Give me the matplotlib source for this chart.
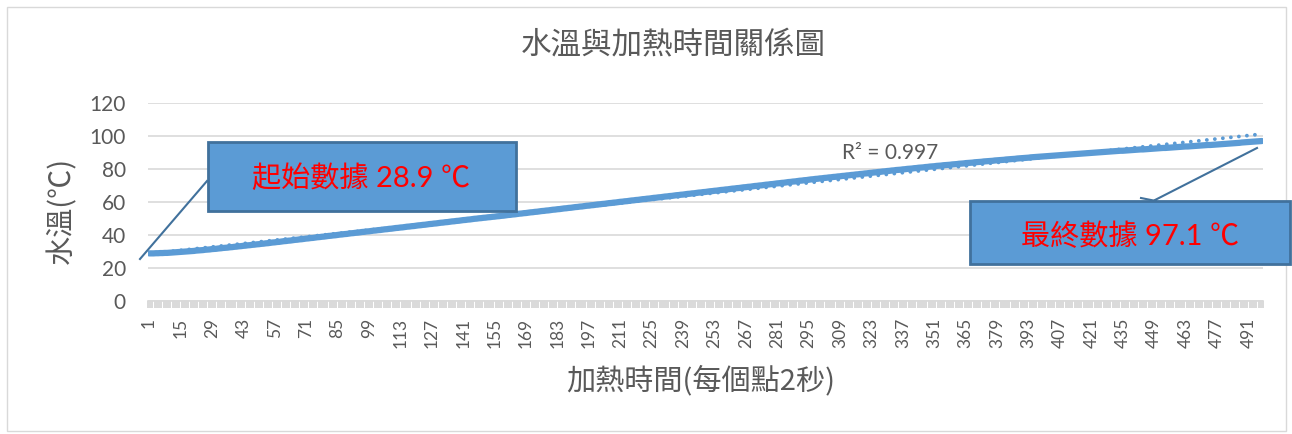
import numpy as np
import matplotlib.pyplot as plt
from matplotlib.patches import Rectangle
from matplotlib.lines import Line2D

plt.rcParams['font.family'] = ['Lato', 'Noto Sans CJK TC', 'DejaVu Sans']

# water temperature, one reading every 2 s
temps = [
    28.9, 28.9, 28.9, 29.0, 29.0, 29.1, 29.1, 29.2, 29.2, 29.3,
    29.4, 29.5, 29.6, 29.7, 29.8, 29.9, 30.0, 30.1, 30.2, 30.3,
    30.4, 30.6, 30.7, 30.8, 30.9, 31.1, 31.2, 31.3, 31.5, 31.6,
    31.7, 31.9, 32.0, 32.2, 32.3, 32.4, 32.6, 32.7, 32.9, 33.0,
    33.2, 33.3, 33.5, 33.6, 33.8, 33.9, 34.1, 34.2, 34.4, 34.5,
    34.7, 34.8, 35.0, 35.1, 35.3, 35.5, 35.6, 35.8, 35.9, 36.1,
    36.3, 36.4, 36.6, 36.7, 36.9, 37.1, 37.2, 37.4, 37.5, 37.7,
    37.9, 38.0, 38.2, 38.3, 38.5, 38.7, 38.8, 39.0, 39.1, 39.3,
    39.5, 39.6, 39.8, 39.9, 40.1, 40.3, 40.4, 40.6, 40.7, 40.9,
    41.1, 41.2, 41.4, 41.5, 41.7, 41.9, 42.0, 42.2, 42.3, 42.5,
    42.7, 42.8, 43.0, 43.1, 43.3, 43.5, 43.6, 43.8, 43.9, 44.1,
    44.3, 44.4, 44.6, 44.7, 44.9, 45.1, 45.2, 45.4, 45.5, 45.7,
    45.9, 46.0, 46.2, 46.3, 46.5, 46.7, 46.8, 47.0, 47.1, 47.3,
    47.5, 47.6, 47.8, 47.9, 48.1, 48.3, 48.4, 48.6, 48.7, 48.9,
    49.1, 49.2, 49.4, 49.5, 49.7, 49.9, 50.0, 50.2, 50.3, 50.5,
    50.6, 50.8, 50.9, 51.1, 51.2, 51.4, 51.5, 51.7, 51.8, 52.0,
    52.2, 52.3, 52.5, 52.6, 52.8, 53.0, 53.1, 53.3, 53.4, 53.6,
    53.8, 53.9, 54.1, 54.2, 54.4, 54.6, 54.7, 54.9, 55.0, 55.2,
    55.4, 55.5, 55.7, 55.8, 56.0, 56.2, 56.3, 56.5, 56.6, 56.8,
    57.0, 57.1, 57.3, 57.4, 57.6, 57.8, 57.9, 58.1, 58.2, 58.4,
    58.6, 58.7, 58.9, 59.0, 59.2, 59.4, 59.5, 59.7, 59.8, 60.0,
    60.2, 60.3, 60.5, 60.6, 60.8, 61.0, 61.1, 61.3, 61.4, 61.6,
    61.8, 61.9, 62.1, 62.2, 62.4, 62.6, 62.7, 62.9, 63.0, 63.2,
    63.4, 63.5, 63.7, 63.8, 64.0, 64.2, 64.3, 64.5, 64.6, 64.8,
    65.0, 65.1, 65.3, 65.4, 65.6, 65.8, 65.9, 66.1, 66.2, 66.4,
    66.6, 66.7, 66.9, 67.0, 67.2, 67.4, 67.5, 67.7, 67.8, 68.0,
    68.2, 68.3, 68.5, 68.6, 68.8, 69.0, 69.1, 69.3, 69.4, 69.6,
    69.8, 69.9, 70.1, 70.2, 70.4, 70.6, 70.7, 70.9, 71.0, 71.2,
    71.4, 71.5, 71.7, 71.8, 72.0, 72.2, 72.3, 72.5, 72.6, 72.8,
    73.0, 73.1, 73.3, 73.4, 73.6, 73.8, 73.9, 74.1, 74.2, 74.4,
    74.5, 74.7, 74.8, 75.0, 75.1, 75.3, 75.4, 75.6, 75.7, 75.9,
    76.0, 76.2, 76.3, 76.5, 76.6, 76.8, 76.9, 77.1, 77.2, 77.4,
    77.5, 77.7, 77.8, 78.0, 78.1, 78.3, 78.4, 78.6, 78.7, 78.9,
    79.0, 79.2, 79.3, 79.5, 79.6, 79.7, 79.9, 80.0, 80.2, 80.3,
    80.4, 80.6, 80.7, 80.9, 81.0, 81.1, 81.3, 81.4, 81.6, 81.7,
    81.8, 82.0, 82.1, 82.2, 82.4, 82.5, 82.6, 82.7, 82.9, 83.0,
    83.1, 83.3, 83.4, 83.5, 83.7, 83.8, 83.9, 84.0, 84.2, 84.3,
    84.4, 84.5, 84.7, 84.8, 84.9, 85.0, 85.1, 85.3, 85.4, 85.5,
    85.6, 85.7, 85.9, 86.0, 86.1, 86.2, 86.3, 86.5, 86.6, 86.7,
    86.8, 86.9, 87.0, 87.2, 87.3, 87.4, 87.5, 87.6, 87.7, 87.8,
    87.9, 88.0, 88.1, 88.2, 88.3, 88.4, 88.5, 88.6, 88.7, 88.8,
    88.9, 89.0, 89.1, 89.2, 89.3, 89.4, 89.5, 89.6, 89.7, 89.8,
    89.9, 90.0, 90.1, 90.2, 90.3, 90.4, 90.5, 90.6, 90.7, 90.8,
    90.9, 91.0, 91.1, 91.2, 91.2, 91.3, 91.4, 91.5, 91.6, 91.7,
    91.8, 91.9, 92.0, 92.0, 92.1, 92.2, 92.3, 92.4, 92.5, 92.6,
    92.7, 92.8, 92.9, 92.9, 93.0, 93.1, 93.2, 93.3, 93.4, 93.5,
    93.6, 93.7, 93.8, 93.8, 93.9, 94.0, 94.1, 94.2, 94.3, 94.4,
    94.5, 94.6, 94.7, 94.7, 94.8, 94.9, 95.0, 95.1, 95.2, 95.3,
    95.4, 95.5, 95.6, 95.7, 95.8, 95.9, 96.0, 96.2, 96.3, 96.4,
    96.5, 96.6, 96.7, 96.8, 96.9, 97.0, 97.1,
]
y_ticks = [0, 20, 40, 60, 80, 100, 120]
label_step = 14

title = '水溫與加熱時間關係圖'
xlabel = '加熱時間(每個點2秒)'
ylabel = '水溫(℃)'
r2_text = 'R² = 0.997'
start_note = '起始數據 28.9 ℃'
end_note = '最終數據 97.1 ℃'

W, H = 1292, 434
GRAY = '#595959'
LIGHT = '#d9d9d9'
BLUE = '#5b9bd5'
DARK = '#41719c'
CJK = ['Noto Sans CJK TC', 'DejaVu Sans']


def fx(px):
    return px / W


def fy(py):
    return 1 - py / H


fig = plt.figure(figsize=(W / 100, H / 100), dpi=100)
ax = fig.add_axes([fx(148), fy(301), (1263 - 148) / W, (301 - 103.3) / H])

x = np.arange(1, len(temps) + 1)
ax.plot(x, temps, color=BLUE, lw=4.5, solid_capstyle='round',
        solid_joinstyle='round', zorder=3)

# linear trendline (dotted), like Excel
coef = np.polyfit(x, temps, 1)
ax.plot(x, np.polyval(coef, x), color=BLUE, lw=2.75,
        linestyle=(0, (0.01, 2.1)), dash_capstyle='round', zorder=4)

ax.set_xlim(0.5, len(temps) + 0.5)
ax.set_ylim(0, 120)
ax.set_yticks(y_ticks)
ax.yaxis.grid(True, color=LIGHT, lw=1.2)
ax.set_axisbelow(True)
for s in ['top', 'right', 'left']:
    ax.spines[s].set_visible(False)
ax.spines['bottom'].set_color(LIGHT)
ax.spines['bottom'].set_linewidth(1.2)

labels = list(range(1, len(temps) + 1, label_step))
ax.set_xticks(labels)
ax.set_xticklabels([str(v) for v in labels], rotation=90)
ax.set_xticks(np.arange(0.5, len(temps) + 1, 1), minor=True)
ax.tick_params(axis='x', which='major', length=0, pad=12,
               labelsize=12.5, labelcolor=GRAY)
ax.tick_params(axis='x', which='minor', length=5, width=1.4, color=LIGHT)
ax.tick_params(axis='y', length=0, pad=16, labelsize=15, labelcolor=GRAY)

ax.text(0.666, 0.751, r2_text, transform=ax.transAxes, fontsize=15,
        color=GRAY, ha='center', va='center')

# titles
fig.text(fx(673), fy(45), title, ha='center', va='center', fontsize=22,
         color=GRAY, family=CJK, fontweight='light')
fig.text(fx(701), fy(381), xlabel, ha='center', va='center', fontsize=21,
         color=GRAY, family=CJK, fontweight='light')
fig.text(fx(62), fy(210), ylabel, ha='center', va='center', fontsize=21,
         color=GRAY, family=CJK, fontweight='light', rotation=90)

# outer chart border
fig.add_artist(Rectangle((fx(7), fy(431)), (1286 - 7) / W, (431 - 7) / H,
                         transform=fig.transFigure, fill=False,
                         edgecolor=LIGHT, lw=1, zorder=0))

# callouts
fig.add_artist(Line2D([fx(140), fx(207)], [fy(259), fy(181)],
                      transform=fig.transFigure, color=DARK, lw=1.5, zorder=2))
fig.add_artist(Rectangle((fx(208), fy(211)), (516 - 208) / W, (211 - 142) / H,
                         transform=fig.transFigure, facecolor=BLUE,
                         edgecolor=DARK, lw=2, zorder=3))
fig.text(fx(361), fy(178), start_note, ha='center', va='center',
         fontsize=21, color='red', zorder=4)

fig.add_artist(Line2D([fx(1257), fx(1155)], [fy(148), fy(200)],
                      transform=fig.transFigure, color=DARK, lw=1.5, zorder=2))
fig.add_artist(Line2D([fx(1141), fx(1156)], [fy(198), fy(201)],
                      transform=fig.transFigure, color=DARK, lw=1.5, zorder=2))
fig.add_artist(Rectangle((fx(970), fy(264)), (1290 - 970) / W, (264 - 201) / H,
                         transform=fig.transFigure, facecolor=BLUE,
                         edgecolor=DARK, lw=2, zorder=3))
fig.text(fx(1130), fy(236), end_note, ha='center', va='center',
         fontsize=21, color='red', zorder=4)

fig.savefig('out.png', dpi=100)
